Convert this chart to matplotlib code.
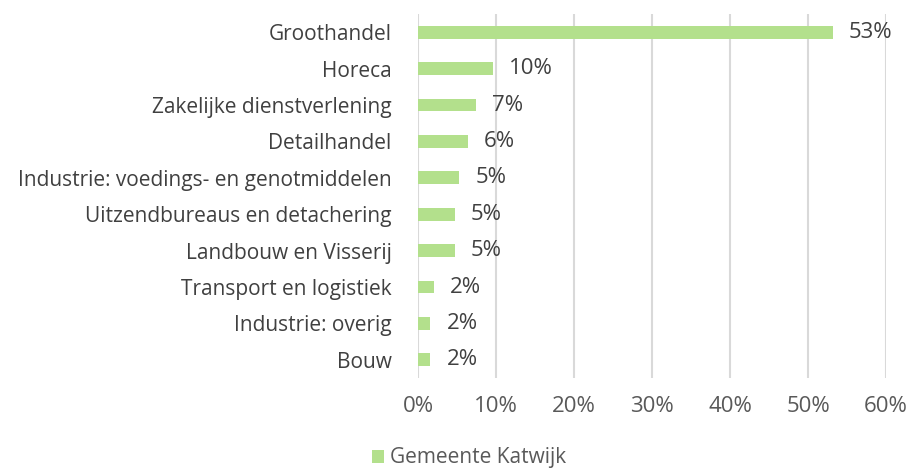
import matplotlib.pyplot as plt
from matplotlib.ticker import PercentFormatter

plt.rcParams['font.family'] = ['Open Sans', 'DejaVu Sans']

# Sectors, top to bottom
categories = ['Groothandel', 'Horeca', 'Zakelijke dienstverlening', 'Detailhandel',
              'Industrie: voedings- en genotmiddelen', 'Uitzendbureaus en detachering',
              'Landbouw en Visserij', 'Transport en logistiek', 'Industrie: overig', 'Bouw']
# share in %
values = [53.2, 9.6, 7.4, 6.4, 5.3, 4.7, 4.7, 2.1, 1.6, 1.6]
labels = ['53%', '10%', '7%', '6%', '5%', '5%', '5%', '2%', '2%', '2%']
series_name = 'Gemeente Katwijk'

fig = plt.figure(figsize=(9.11, 4.70), dpi=100)
ax = fig.add_axes([0.4588, 0.1957, 0.5138, 0.7745])

ypos = list(range(len(categories)))
ax.barh(ypos, values, height=0.35, color='#B3E08C', label=series_name, zorder=3)

for y, v, lab in zip(ypos, values, labels):
    ax.annotate(lab, (v, y), xytext=(16, 0), textcoords='offset pixels',
                va='center', ha='left', fontsize=16, color='#404040')

ax.set_yticks(ypos)
ax.set_yticklabels(categories, fontsize=15, color='#404040')
ax.set_ylim(len(categories) - 0.5, -0.5)
ax.set_xlim(0, 60)
ax.set_xticks(range(0, 61, 10))
ax.xaxis.set_major_formatter(PercentFormatter(decimals=0))
ax.tick_params(axis='x', labelsize=16, colors='#595959', length=0, pad=13)
ax.tick_params(axis='y', length=0, pad=19)
ax.grid(axis='x', color='#D9D9D9', linewidth=1.5, zorder=0)
for s in ax.spines.values():
    s.set_visible(False)

fig.legend(loc='center', bbox_to_anchor=(469 / 911, 1 - 458 / 470), frameon=False,
           fontsize=15, handlelength=0.6, handleheight=0.6, handletextpad=0.3,
           labelcolor='#595959')

fig.savefig('out.png', dpi=100)
